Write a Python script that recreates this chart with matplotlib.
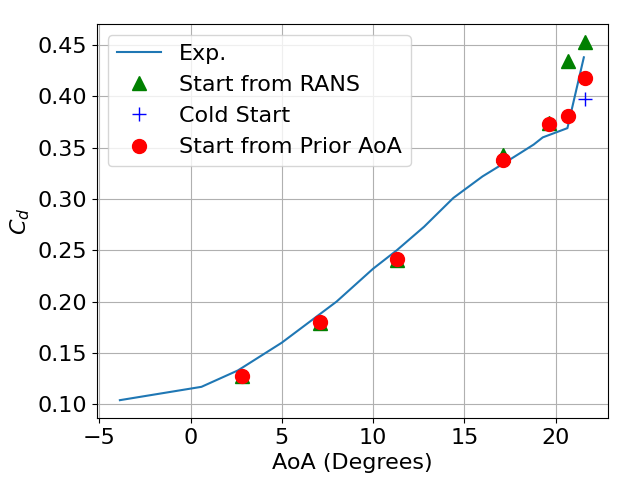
import matplotlib
matplotlib.use("Agg")
import matplotlib.pyplot as plt

plt.rcParams['font.size'] = 16

exp_aoa = [-3.87, 0.6, 2.6, 5.0, 6.5, 8.0, 10.0, 11.3, 12.8, 14.4, 16.0, 17.1, 18.0, 18.8, 19.3, 20.65, 21.55]
exp_cd = [0.104, 0.117, 0.133, 0.160, 0.180, 0.200, 0.232, 0.250, 0.273, 0.301, 0.322, 0.334, 0.344, 0.353, 0.360, 0.369, 0.438]

aoa = [2.82, 7.09, 11.31, 17.1, 19.65, 20.68, 21.6]
cd_rans = [0.128, 0.179, 0.241, 0.343, 0.374, 0.434, 0.453]
cd_cold = [0.128, 0.180, 0.242, 0.338, 0.373, 0.381, 0.397]
cd_prior = [0.128, 0.180, 0.242, 0.338, 0.373, 0.381, 0.418]

fig, ax = plt.subplots(figsize=(6.4, 4.8), dpi=100)
ax.plot(exp_aoa, exp_cd, label='Exp.')
ax.plot(aoa, cd_rans, '^', color='green', markersize=10, label='Start from RANS')
ax.plot(aoa, cd_cold, '+', color='blue', markersize=10, label='Cold Start')
ax.plot(aoa, cd_prior, 'o', color='red', markersize=10, label='Start from Prior AoA')
ax.set_xlabel('AoA (Degrees)')
ax.set_ylabel('$C_d$')
ax.grid(True)
ax.legend(loc='upper left')
fig.subplots_adjust(left=0.151, right=0.95, top=0.95, bottom=0.129)
fig.savefig('out.png')
